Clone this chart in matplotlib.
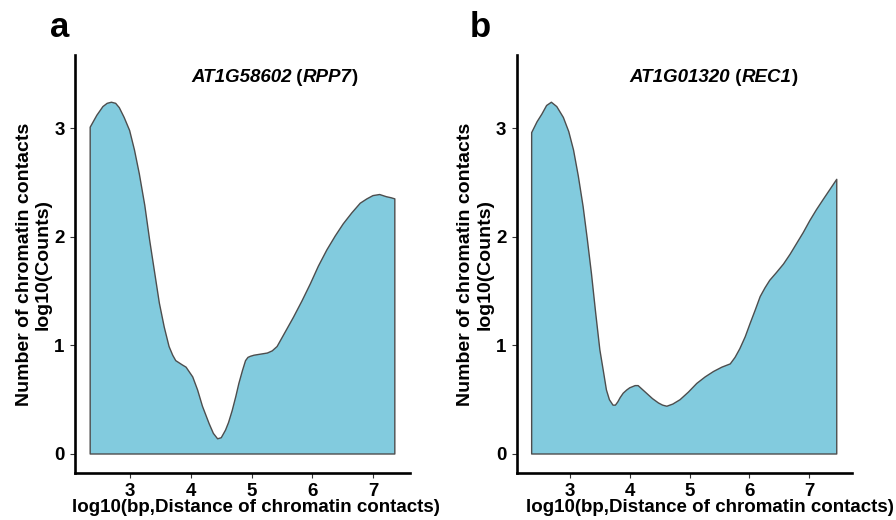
import matplotlib
matplotlib.use('Agg')
import matplotlib.pyplot as plt
import numpy as np

plt.rcParams['font.family'] = 'Liberation Sans'

# panel a: AT1G58602 (RPP7)
dist_a = [2.34, 2.45, 2.55, 2.62, 2.69, 2.76, 2.82, 2.90, 2.99, 3.07, 3.15,
          3.24, 3.32, 3.40, 3.48, 3.56, 3.64, 3.70, 3.75, 3.86, 3.92, 4.03,
          4.11, 4.19, 4.30, 4.37, 4.44, 4.50, 4.57, 4.62, 4.68, 4.74, 4.79,
          4.85, 4.90, 4.94, 4.98, 5.04, 5.15, 5.26, 5.34, 5.42, 5.55, 5.69,
          5.83, 5.97, 6.10, 6.24, 6.38, 6.51, 6.65, 6.79, 6.90, 7.00, 7.11,
          7.22, 7.30, 7.36]
counts_a = [3.01, 3.12, 3.20, 3.23, 3.24, 3.23, 3.19, 3.10, 2.98, 2.80, 2.58,
            2.29, 1.97, 1.68, 1.39, 1.17, 0.99, 0.91, 0.86, 0.82, 0.80, 0.71,
            0.59, 0.44, 0.28, 0.19, 0.14, 0.15, 0.22, 0.29, 0.40, 0.53, 0.65,
            0.77, 0.86, 0.89, 0.90, 0.91, 0.92, 0.93, 0.95, 0.99, 1.12, 1.26,
            1.41, 1.57, 1.73, 1.88, 2.01, 2.12, 2.22, 2.31, 2.35, 2.38, 2.39,
            2.37, 2.36, 2.35]

# panel b: AT1G01320 (REC1)
dist_b = [2.36, 2.45, 2.53, 2.61, 2.69, 2.78, 2.89, 2.98, 3.06, 3.14, 3.22,
          3.29, 3.36, 3.43, 3.50, 3.56, 3.61, 3.66, 3.72, 3.76, 3.80, 3.84,
          3.89, 3.95, 4.00, 4.09, 4.14, 4.20, 4.28, 4.38, 4.48, 4.55, 4.62,
          4.72, 4.84, 4.98, 5.12, 5.26, 5.40, 5.54, 5.68, 5.76, 5.84, 5.93,
          6.01, 6.10, 6.18, 6.26, 6.34, 6.45, 6.57, 6.68, 6.79, 6.90, 7.01,
          7.12, 7.24, 7.35, 7.46]
counts_b = [2.96, 3.06, 3.13, 3.21, 3.24, 3.20, 3.10, 2.97, 2.80, 2.56, 2.28,
            1.98, 1.66, 1.30, 0.96, 0.76, 0.59, 0.50, 0.45, 0.45, 0.48, 0.52,
            0.56, 0.59, 0.61, 0.63, 0.63, 0.60, 0.56, 0.51, 0.47, 0.45, 0.44,
            0.46, 0.50, 0.57, 0.65, 0.71, 0.76, 0.80, 0.83, 0.89, 0.97, 1.08,
            1.20, 1.33, 1.45, 1.53, 1.60, 1.67, 1.75, 1.84, 1.94, 2.04, 2.15,
            2.25, 2.35, 2.44, 2.53]

genes = ('AT1G58602', 'AT1G01320')
names = ('RPP7', 'REC1')
letters = ('a', 'b')

fill_col = '#82CBDE'
edge_col = '#4D4D4D'

fig = plt.figure(figsize=(8.96, 5.2), dpi=100)
ax_a = fig.add_axes([75/896, 47/520, 335/896, 418/520])
ax_b = fig.add_axes([516.7/896, 47/520, 335/896, 418/520])

panels = [(ax_a, dist_a, counts_a, (2.09, 7.61), 0.54),
          (ax_b, dist_b, counts_b, (2.11, 7.71), 0.578)]

for i, (ax, x, y, xlim, xlab_pos) in enumerate(panels):
    xs = np.r_[x[0], x, x[-1]]
    ys = np.r_[0, y, 0]
    ax.fill(xs, ys, facecolor=fill_col, edgecolor=edge_col, linewidth=1.0,
            joinstyle='round')
    ax.set_xlim(*xlim)
    ax.set_ylim(-0.175, 3.675)
    ax.set_xticks([3, 4, 5, 6, 7])
    ax.set_yticks([0, 1, 2, 3])
    for side in ('top', 'right'):
        ax.spines[side].set_visible(False)
    for side in ('left', 'bottom'):
        ax.spines[side].set_linewidth(1.9)
        ax.spines[side].set_color('black')
    ax.tick_params(length=3.5, width=0.8, color='#333333', labelsize=13.5, pad=4)
    for lab in ax.get_xticklabels() + ax.get_yticklabels():
        lab.set_fontweight('bold')
    ax.set_xlabel('log10(bp,Distance of chromatin contacts)', fontsize=13.5,
                  fontweight='bold', va='center')
    ax.xaxis.set_label_coords(xlab_pos, -35/418)
    ax.set_ylabel('Number of chromatin contacts\nlog10(Counts)', fontsize=14,
                  fontweight='bold', va='center', linespacing=1.15)
    ax.yaxis.set_label_coords(-(75 - 33.5)/335, 0.5)

    # title: gene names italic, brackets upright
    t1 = ax.text(4.0, 3.47, genes[i], fontsize=13.5, fontweight='bold',
                 style='italic', ha='left', va='center')
    t2 = ax.annotate(' (', xy=(1, 0), xycoords=t1, fontsize=13.5,
                     fontweight='bold', ha='left', va='bottom')
    t3 = ax.annotate(names[i], xy=(1, 0), xycoords=t2, fontsize=13.5,
                     fontweight='bold', style='italic', ha='left', va='bottom')
    ax.annotate(')', xy=(1, 0), xycoords=t3, fontsize=13.5,
                fontweight='bold', ha='left', va='bottom')

fig.text(50/896, 1 - 37/520, letters[0], fontsize=25, fontweight='bold',
         ha='left', va='baseline')
fig.text(470/896, 1 - 37/520, letters[1], fontsize=25, fontweight='bold',
         ha='left', va='baseline')

fig.savefig('out.png', dpi=100, facecolor='white')
